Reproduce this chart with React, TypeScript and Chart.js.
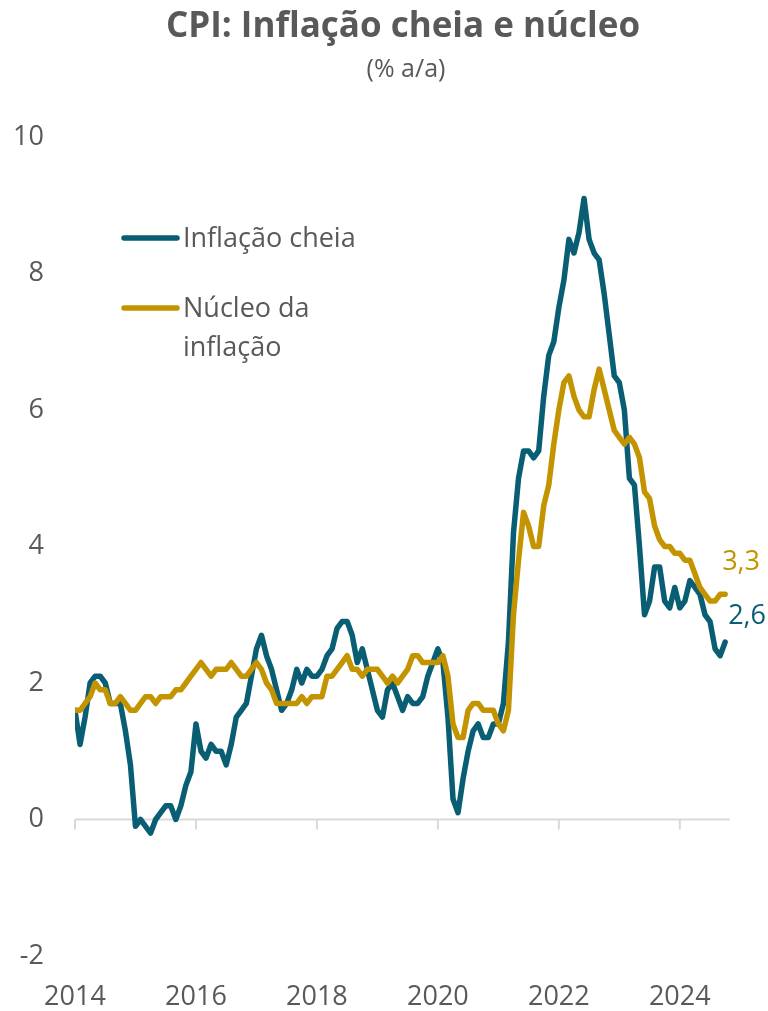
import { useEffect, useRef } from "react";
import { Chart, registerables } from "chart.js";

Chart.register(...registerables);

// ---- Data (monthly, Jan 2014 – Oct 2024, % y/y) ----
const START_YEAR = 2014;

const headline = [
  // 2014
  1.6, 1.1, 1.5, 2.0, 2.1, 2.1, 2.0, 1.7, 1.7, 1.7, 1.3, 0.8,
  // 2015
  -0.1, 0.0, -0.1, -0.2, 0.0, 0.1, 0.2, 0.2, 0.0, 0.2, 0.5, 0.7,
  // 2016
  1.4, 1.0, 0.9, 1.1, 1.0, 1.0, 0.8, 1.1, 1.5, 1.6, 1.7, 2.1,
  // 2017
  2.5, 2.7, 2.4, 2.2, 1.9, 1.6, 1.7, 1.9, 2.2, 2.0, 2.2, 2.1,
  // 2018
  2.1, 2.2, 2.4, 2.5, 2.8, 2.9, 2.9, 2.7, 2.3, 2.5, 2.2, 1.9,
  // 2019
  1.6, 1.5, 1.9, 2.0, 1.8, 1.6, 1.8, 1.7, 1.7, 1.8, 2.1, 2.3,
  // 2020
  2.5, 2.3, 1.5, 0.3, 0.1, 0.6, 1.0, 1.3, 1.4, 1.2, 1.2, 1.4,
  // 2021
  1.4, 1.7, 2.6, 4.2, 5.0, 5.4, 5.4, 5.3, 5.4, 6.2, 6.8, 7.0,
  // 2022
  7.5, 7.9, 8.5, 8.3, 8.6, 9.1, 8.5, 8.3, 8.2, 7.7, 7.1, 6.5,
  // 2023
  6.4, 6.0, 5.0, 4.9, 4.0, 3.0, 3.2, 3.7, 3.7, 3.2, 3.1, 3.4,
  // 2024
  3.1, 3.2, 3.5, 3.4, 3.3, 3.0, 2.9, 2.5, 2.4, 2.6,
];

const core = [
  // 2014
  1.6, 1.6, 1.7, 1.8, 2.0, 1.9, 1.9, 1.7, 1.7, 1.8, 1.7, 1.6,
  // 2015
  1.6, 1.7, 1.8, 1.8, 1.7, 1.8, 1.8, 1.8, 1.9, 1.9, 2.0, 2.1,
  // 2016
  2.2, 2.3, 2.2, 2.1, 2.2, 2.2, 2.2, 2.3, 2.2, 2.1, 2.1, 2.2,
  // 2017
  2.3, 2.2, 2.0, 1.9, 1.7, 1.7, 1.7, 1.7, 1.7, 1.8, 1.7, 1.8,
  // 2018
  1.8, 1.8, 2.1, 2.1, 2.2, 2.3, 2.4, 2.2, 2.2, 2.1, 2.2, 2.2,
  // 2019
  2.2, 2.1, 2.0, 2.1, 2.0, 2.1, 2.2, 2.4, 2.4, 2.3, 2.3, 2.3,
  // 2020
  2.3, 2.4, 2.1, 1.4, 1.2, 1.2, 1.6, 1.7, 1.7, 1.6, 1.6, 1.6,
  // 2021
  1.4, 1.3, 1.6, 3.0, 3.8, 4.5, 4.3, 4.0, 4.0, 4.6, 4.9, 5.5,
  // 2022
  6.0, 6.4, 6.5, 6.2, 6.0, 5.9, 5.9, 6.3, 6.6, 6.3, 6.0, 5.7,
  // 2023
  5.6, 5.5, 5.6, 5.5, 5.3, 4.8, 4.7, 4.3, 4.1, 4.0, 4.0, 3.9,
  // 2024
  3.9, 3.8, 3.8, 3.6, 3.4, 3.3, 3.2, 3.2, 3.3, 3.3,
];

const xTicks = [2014, 2016, 2018, 2020, 2022, 2024];
const yTicks = [-2, 0, 2, 4, 6, 8, 10];

const TITLE = "CPI: Inflação cheia e núcleo";
const SUBTITLE = "(% a/a)";
const seriesNames = ["Inflação cheia", "Núcleo da inflação"];
const legendLines = [["Inflação cheia"], ["Núcleo da", "inflação"]];

const TEAL = "#0A5E74";
const GOLD = "#C39400";
const TEXT = "#595959";
const FONT = "'Open Sans', sans-serif";

const fmt = (v: number) => v.toFixed(1).replace(".", ",");

export default function App() {
  const ref = useRef<HTMLCanvasElement | null>(null);

  useEffect(() => {
    if (!ref.current) return;
    const monthX = (i: number) => START_YEAR + i / 12;
    const headPts = headline.map((v, i) => ({ x: monthX(i), y: v }));
    const corePts = core.map((v, i) => ({ x: monthX(i), y: v }));

    const decor = {
      id: "decor",
      beforeDatasetsDraw(chart: any) {
        const { ctx, chartArea } = chart;
        const x = chart.scales.x;
        const y = chart.scales.y;
        const y0 = y.getPixelForValue(0);
        ctx.save();
        ctx.strokeStyle = "#D9D9D9";
        ctx.lineWidth = 2;
        ctx.beginPath();
        ctx.moveTo(chartArea.left, y0);
        ctx.lineTo(chartArea.right, y0);
        xTicks.forEach((v) => {
          const px = x.getPixelForValue(v);
          ctx.moveTo(px, y0);
          ctx.lineTo(px, y0 + 10);
        });
        ctx.stroke();
        ctx.restore();
      },
      afterDatasetsDraw(chart: any) {
        const { ctx } = chart;
        const x = chart.scales.x;
        const y = chart.scales.y;
        ctx.save();
        // Title
        ctx.fillStyle = TEXT;
        ctx.textAlign = "center";
        ctx.textBaseline = "alphabetic";
        ctx.font = `bold 35px ${FONT}`;
        ctx.fillText(TITLE, 403, 37);
        ctx.font = `25px ${FONT}`;
        ctx.fillText(SUBTITLE, 406, 77);

        // Legend
        const colors = [TEAL, GOLD];
        const legendY = [238, 308];
        ctx.lineCap = "round";
        ctx.lineWidth = 5.5;
        ctx.font = `27px ${FONT}`;
        ctx.textAlign = "left";
        ctx.textBaseline = "middle";
        legendLines.forEach((lines, i) => {
          ctx.strokeStyle = colors[i];
          ctx.beginPath();
          ctx.moveTo(124, legendY[i]);
          ctx.lineTo(177, legendY[i]);
          ctx.stroke();
          ctx.fillStyle = TEXT;
          lines.forEach((t, j) => ctx.fillText(t, 183, legendY[i] + 1 + j * 39));
        });

        // End labels
        const lastH = headline.length - 1;
        const lastC = core.length - 1;
        ctx.font = `27px ${FONT}`;
        ctx.fillStyle = GOLD;
        ctx.fillText(
          fmt(core[lastC]),
          x.getPixelForValue(monthX(lastC)) - 3,
          y.getPixelForValue(core[lastC]) - 32
        );
        ctx.fillStyle = TEAL;
        ctx.fillText(
          fmt(headline[lastH]),
          x.getPixelForValue(monthX(lastH)) + 3,
          y.getPixelForValue(headline[lastH]) - 26
        );
        ctx.restore();
      },
    };

    const chart = new Chart(ref.current, {
      type: "line",
      data: {
        datasets: [
          {
            label: seriesNames[0],
            data: headPts,
            borderColor: TEAL,
            borderWidth: 5.5,
            pointRadius: 0,
            tension: 0,
            borderJoinStyle: "round",
            borderCapStyle: "round",
            order: 1,
          },
          {
            label: seriesNames[1],
            data: corePts,
            borderColor: GOLD,
            borderWidth: 5.5,
            pointRadius: 0,
            tension: 0,
            borderJoinStyle: "round",
            borderCapStyle: "round",
            order: 0,
          },
        ],
      },
      options: {
        responsive: false,
        animation: false,
        layout: { padding: { left: 0, right: 38, top: 137, bottom: 0 } },
        plugins: {
          legend: { display: false },
          title: { display: false },
          tooltip: { enabled: false },
        },
        scales: {
          x: {
            type: "linear",
            min: 2014,
            max: 2024.83,
            grid: { display: false, drawTicks: false },
            border: { display: false },
            afterBuildTicks: (scale: any) => {
              scale.ticks = xTicks.map((v) => ({ value: v }));
            },
            afterFit: (scale: any) => {
              scale.height = 55;
            },
            ticks: {
              color: TEXT,
              font: { family: FONT, size: 27 },
              padding: 25,
              maxRotation: 0,
              autoSkip: false,
              callback: (v: any) => String(v),
            },
          },
          y: {
            min: -2,
            max: 10,
            grid: { display: false, drawTicks: false },
            border: { display: false },
            afterBuildTicks: (scale: any) => {
              scale.ticks = yTicks.map((v) => ({ value: v }));
            },
            afterFit: (scale: any) => {
              scale.width = 75;
            },
            ticks: {
              color: TEXT,
              font: { family: FONT, size: 27 },
              padding: 31,
              callback: (v: any) => String(v),
            },
          },
        },
      },
      plugins: [decor],
    });
    return () => chart.destroy();
  }, []);

  return (
    <div style={{ position: "absolute", left: 0, top: 0, width: 768, height: 1011 }}>
      <canvas ref={ref} width={768} height={1011} style={{ display: "block" }} />
    </div>
  );
}
